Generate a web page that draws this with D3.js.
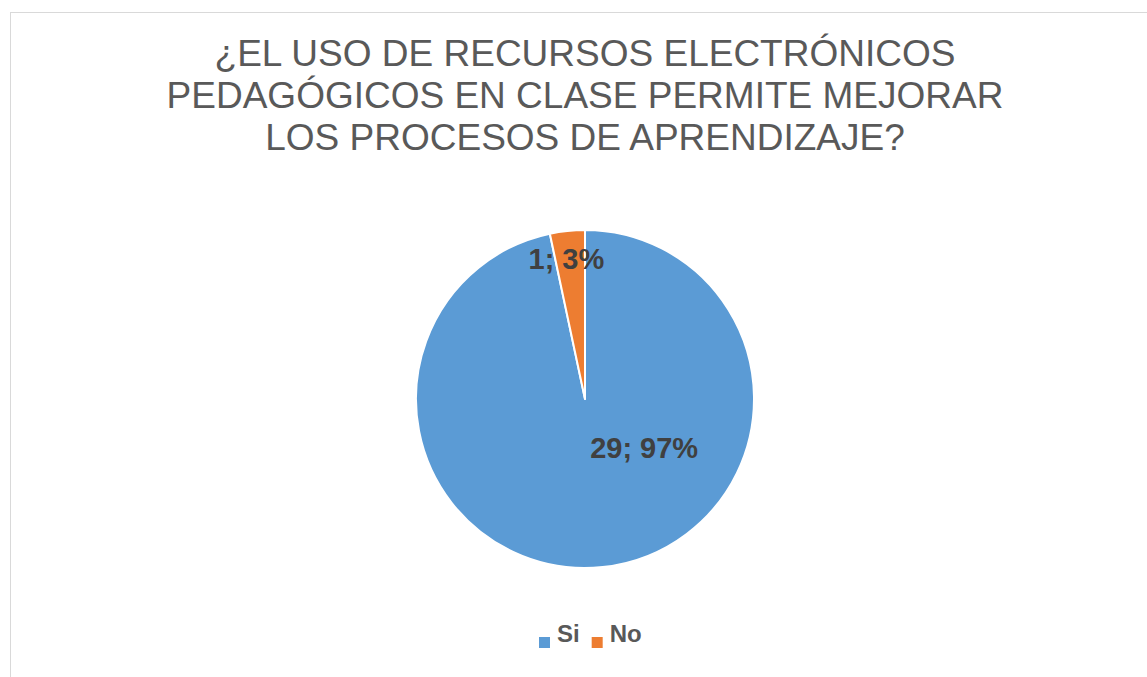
<!DOCTYPE html>
<html>
<head>
<meta charset="utf-8">
<script src="https://cdn.jsdelivr.net/npm/d3@7"></script>
<style>
  body { margin: 0; background: #fff; }
  text { font-family: "Liberation Sans", Arial, sans-serif; }
</style>
</head>
<body>
<div class="chart"></div>
<script>
var categories = ["Si", "No"];
var values = [29, 1];
var colors = ["#5B9BD5", "#ED7D31"];
var titleLines = ["¿EL USO DE RECURSOS ELECTRÓNICOS",
                  "PEDAGÓGICOS EN CLASE PERMITE MEJORAR",
                  "LOS PROCESOS DE APRENDIZAJE?"];

var width = 1147,
    height = 677,
    cx = 585,
    cy = 399,
    radius = 169;

// where Excel dropped each label, relative to pie centre (fraction of radius)
var labelSpots = [[0.35, 0.29], [-0.11, -0.83]];

var svg = d3.select(".chart").append("svg")
    .attr("width", width)
    .attr("height", height);

svg.append("rect")
    .attr("x", 10.5).attr("y", 12.5)
    .attr("width", width).attr("height", height)
    .attr("fill", "#fff")
    .attr("stroke", "#d9d9d9");

svg.append("text")
    .attr("text-anchor", "middle")
    .attr("fill", "#595959")
    .attr("font-size", 37)
    .selectAll("tspan")
    .data(titleLines)
    .enter()
    .append("tspan")
    .attr("x", cx)
    .attr("y", function(d, i){ return 66 + i * 42; })
    .text(function(d){ return d; });

var total = d3.sum(values);
var pie = d3.pie().sort(null).value(function(d){ return d; });
var arc = d3.arc().innerRadius(0).outerRadius(radius);
var color = d3.scaleOrdinal().domain(categories).range(colors);

var g = svg.append("g").attr("transform", "translate(" + cx + "," + cy + ")");

var slices = pie(values);

g.selectAll(".slice")
    .data(slices)
    .enter()
    .append("path")
    .attr("class", "slice")
    .attr("d", arc)
    .attr("fill", function(d, i){ return color(categories[i]); })
    .attr("stroke", "#fff")
    .attr("stroke-width", 2)
    .attr("stroke-linejoin", "round");

g.selectAll(".lbl")
    .data(slices)
    .enter()
    .append("text")
    .attr("class", "lbl")
    .attr("x", function(d, i){ return labelSpots[i][0] * radius; })
    .attr("y", function(d, i){ return labelSpots[i][1] * radius; })
    .attr("dy", "0.36em")
    .attr("text-anchor", "middle")
    .attr("font-size", 29)
    .attr("font-weight", "bold")
    .attr("fill", "#404040")
    .text(function(d){ return d.value + "; " + Math.round(d.value / total * 100) + "%"; });

// legend
var legend = svg.append("g").attr("transform", "translate(539,0)");
var lx = 0;
categories.forEach(function(c, i){
    var item = legend.append("g").attr("transform", "translate(" + lx + ",0)");
    item.append("rect")
        .attr("x", 0).attr("y", 637)
        .attr("width", 11).attr("height", 11)
        .attr("fill", color(c));
    var t = item.append("text")
        .attr("x", 18).attr("y", 642)
        .attr("font-size", 24)
        .attr("font-weight", "bold")
        .attr("fill", "#595959")
        .text(c);
    lx += 18 + t.node().getComputedTextLength() + 12;
});
</script>
</body>
</html>
